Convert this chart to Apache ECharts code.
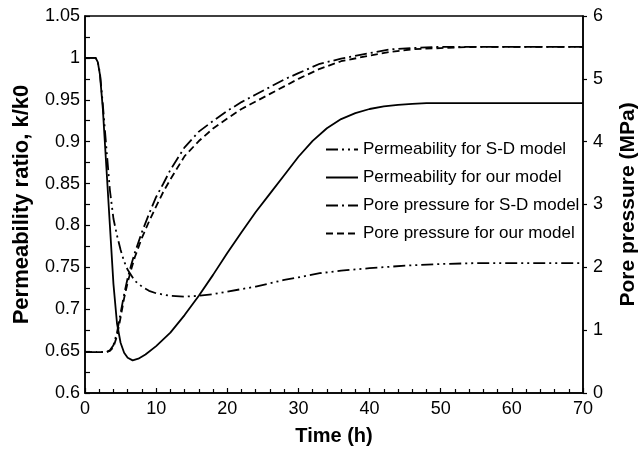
<!DOCTYPE html>
<html>
<head>
<meta charset="utf-8">
<script src="https://cdn.jsdelivr.net/npm/echarts@6/dist/echarts.min.js"></script>
<style>
html,body{margin:0;padding:0;background:#fff;}
#chart{width:638px;height:449px;}
</style>
</head>
<body>
<div id="chart"></div>
<script>
// Time (h) sampling points per series
var timePermSD = [0,1.5,1.8,2.1,2.5,3,3.5,4,4.5,5,5.5,6,7,8,9,10,12,14,16,18,20,22,24,26,28,30,33,36,40,45,50,55,60,70];
var permSD = [1,1,0.995,0.982,0.945,0.893,0.842,0.808,0.788,0.771,0.757,0.747,0.734,0.727,0.722,0.719,0.716,0.715,0.716,0.718,0.721,0.724,0.727,0.731,0.735,0.738,0.743,0.746,0.749,0.752,0.754,0.755,0.755,0.755];

var timePermOur = [0,1.5,1.8,2.1,2.5,3,3.5,4,4.5,5,5.5,6,6.7,7.5,8.5,10,12,14,16,18,20,22,24,26,28,30,32,34,36,38,40,42,44,46,48,50,60,70];
var permOur = [1,1,0.995,0.98,0.94,0.87,0.8,0.73,0.683,0.66,0.648,0.642,0.639,0.641,0.646,0.656,0.672,0.693,0.716,0.741,0.767,0.792,0.816,0.838,0.86,0.882,0.901,0.916,0.927,0.934,0.939,0.942,0.944,0.945,0.946,0.946,0.946,0.946];

var timePore = [0,3,3.5,4,4.5,5,5.5,6,6.5,7,8,9,10,11,12,14,16,18,20,22,24,26,28,30,33,36,40,43,46,50,55,70];
var poreSD = [0.65,0.65,0.68,0.76,0.96,1.27,1.57,1.83,2.04,2.23,2.56,2.85,3.12,3.33,3.55,3.91,4.16,4.33,4.49,4.63,4.75,4.87,4.99,5.09,5.24,5.32,5.41,5.47,5.49,5.51,5.51,5.51];
var poreOur = [0.65,0.65,0.67,0.73,0.91,1.2,1.51,1.76,1.97,2.16,2.47,2.73,2.97,3.2,3.4,3.77,4.01,4.21,4.37,4.52,4.64,4.76,4.88,5.0,5.16,5.28,5.37,5.43,5.47,5.49,5.51,5.51];

var seriesNames = ['Permeability for S-D model','Permeability for our model','Pore pressure for S-D model','Pore pressure for our model'];

function zip(xs, ys){ return xs.map(function(x,i){ return [x, ys[i]]; }); }

var FONT = '"Liberation Sans", Arial, Helvetica, sans-serif';
var chart = echarts.init(document.getElementById('chart'), null, {renderer:'canvas'});

function mkSeries(name, data, yIdx, dash){
  return {
    name: name, type: 'line', yAxisIndex: yIdx, data: data,
    showSymbol: false, symbol: 'none', smooth: false,
    lineStyle: {color: '#000', width: 1.8, type: dash},
    itemStyle: {color: '#000'},
    animation: false
  };
}

chart.setOption({
  animation: false,
  backgroundColor: '#fff',
  grid: {left: 85, right: 55, top: 16, bottom: 56, outerBoundsMode: 'none', containLabel: false,
    show: true, borderColor: '#000', borderWidth: 1.5, backgroundColor: 'transparent'},
  legend: {
    orient: 'vertical', left: 320, top: 136,
    itemWidth: 32, itemHeight: 14, itemGap: 11,
    itemStyle: {opacity: 0},
    textStyle: {fontFamily: FONT, fontSize: 17, color: '#000'},
    data: seriesNames
  },
  xAxis: {
    type: 'value', min: 0, max: 70, interval: 10,
    name: 'Time (h)', nameLocation: 'middle', nameGap: 33,
    nameTextStyle: {fontFamily: FONT, fontSize: 20, fontWeight: 'bold', color: '#000'},
    axisLine: {lineStyle: {color: '#000', width: 1.5}},
    axisTick: {inside: true, length: 5, lineStyle: {color: '#000', width: 1.2}},
    minorTick: {show: true, splitNumber: 5, length: 4, lineStyle: {color: '#000', width: 1.2}},
    axisLabel: {fontFamily: FONT, fontSize: 18, color: '#000', margin: 7},
    splitLine: {show: false}
  },
  yAxis: [{
    type: 'value', min: 0.6, max: 1.05, interval: 0.05, position: 'left',
    name: 'Permeability ratio, k/k0', nameLocation: 'middle', nameGap: 52,
    nameTextStyle: {fontFamily: FONT, fontSize: 22, fontWeight: 'bold', color: '#000'},
    axisLine: {show: true, lineStyle: {color: '#000', width: 1.5}},
    axisTick: {inside: true, length: 5, lineStyle: {color: '#000', width: 1.2}},
    minorTick: {show: true, splitNumber: 2, length: 5, lineStyle: {color: '#000', width: 1.2}},
    axisLabel: {fontFamily: FONT, fontSize: 18, color: '#000', margin: 5,
      formatter: function(v){ return String(+v.toFixed(2)); }},
    splitLine: {show: false}
  },{
    type: 'value', min: 0, max: 6, interval: 1, position: 'right',
    name: 'Pore pressure (MPa)', nameLocation: 'middle', nameGap: 35, nameRotate: 90,
    nameTextStyle: {fontFamily: FONT, fontSize: 21, fontWeight: 'bold', color: '#000'},
    axisLine: {show: true, lineStyle: {color: '#000', width: 1.5}},
    axisTick: {inside: false, length: 4, lineStyle: {color: '#000', width: 1.2}},
    axisLabel: {fontFamily: FONT, fontSize: 18, color: '#000', margin: 10},
    splitLine: {show: false}
  }],
  series: [
    mkSeries(seriesNames[0], zip(timePermSD, permSD), 0, [12,4,2,4,2,4]),
    mkSeries(seriesNames[1], zip(timePermOur, permOur), 0, 'solid'),
    mkSeries(seriesNames[2], zip(timePore, poreSD), 1, [12,4,2,4]),
    mkSeries(seriesNames[3], zip(timePore, poreOur), 1, [7,4])
  ]
});
</script>
</body>
</html>
